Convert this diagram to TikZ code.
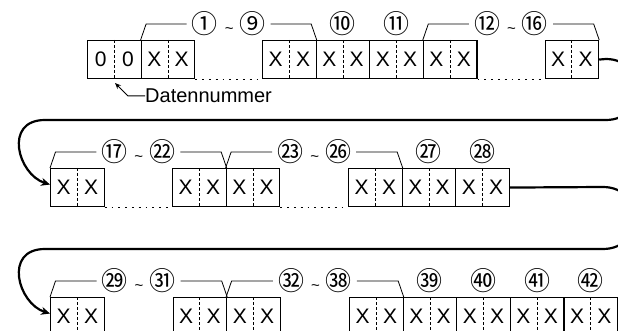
\documentclass[tikz,border=0pt]{standalone}
\usepackage{fontspec}
\setmainfont{Liberation Sans}
\newfontfamily\cjk{Noto Sans CJK JP}
\usetikzlibrary{calc,arrows.meta}
\newcommand\cellpair[5]{%
  \node[cellbox] (#1) at (#2,#3) {};
  \draw[middash] (#1.north) -- (#1.south);
  \node[cellch] (#1l) at ($(#1.center)!0.5!(#1.west)$) {#4};
  \node[cellch] (#1r) at ($(#1.center)!0.5!(#1.east)$) {#5};
}
\newcommand\brkt[4]{%
  \node[cnum] (#1) at ($(#2.north west)!0.5!(#3.north east)+(0,-16)$) {#4};
  \draw[brk] (#2.north west) -- ++(5.5,-16) -- (#1.west);
  \draw[brk] (#1.east) -- ($(#3.north east)+(-5.5,-16)$) -- (#3.north east);
}
\newcommand\tld{\hspace{7pt}{\rmfamily\fontsize{15}{15}\selectfont\textasciitilde}\hspace{6pt}}
\begin{document}
\begin{tikzpicture}[x=1pt,y=-1pt,
  cellbox/.style={draw,line width=1.1pt,minimum width=53.6pt,minimum height=38pt,inner sep=0pt,anchor=north west},
  middash/.style={line width=0.9pt,dash pattern=on 2.6pt off 2.4pt},
  cellch/.style={font=\fontsize{21}{22}\selectfont,inner sep=0pt},
  dnst/.style={font=\fontsize{20}{22}\selectfont,inner sep=0pt},
  gapdot/.style={line width=1pt,dash pattern=on 1.8pt off 5pt},
  brk/.style={line width=0.8pt},
  cnum/.style={font=\cjk\fontsize{26}{26}\selectfont,inner sep=5pt},
  conn/.style={line width=2.2pt},
  arr/.style={-{Stealth[length=9pt,width=8pt]}},
  small arr/.style={-{Stealth[length=6pt,width=5pt]}}
]
\useasboundingbox (0,0) rectangle (618,331);
\clip (0,0) rectangle (618,331);

% Row 1
\cellpair{A}{87}{40}{0}{0}
\cellpair{B}{140.6}{40}{X}{X}
\cellpair{C}{262}{40}{X}{X}
\cellpair{D}{315.6}{40}{X}{X}
\cellpair{E}{369.2}{40}{X}{X}
\cellpair{F}{422.8}{40}{X}{X}
\cellpair{G}{544.5}{40}{X}{X}
\draw[gapdot] (B.south east) -- (C.south west);
\draw[gapdot] (F.south east) -- (G.south west);
\brkt{t1}{B}{C}{①\tld⑨}
\brkt{t2}{F}{G}{⑫\tld⑯}
\node[cnum] (n10) at ($(D.north)+(0,-16)$) {⑩};
\node[cnum] (n11) at ($(E.north)+(0,-16)$) {⑪};

% Datennummer
\node[dnst,anchor=west] (dn) at (145,96) {Datennummer};
\coordinate (dnk) at (128,96);
\coordinate (dnt) at (115,83);
\draw[line width=1pt,small arr] (dn.west) -- (dnk) -- (dnt);

% Row 2
\cellpair{H}{50}{168}{X}{X}
\cellpair{I}{172}{168}{X}{X}
\cellpair{J}{225.6}{168}{X}{X}
\cellpair{K}{348}{168}{X}{X}
\cellpair{L}{401.6}{168}{X}{X}
\cellpair{M}{455.2}{168}{X}{X}
\draw[gapdot] (H.south east) -- (I.south west);
\draw[gapdot] (J.south east) -- (K.south west);
\brkt{t3}{H}{I}{⑰\tld㉒}
\brkt{t4}{J}{K}{㉓\tld㉖}
\node[cnum] (n27) at ($(L.north)+(0,-16)$) {㉗};
\node[cnum] (n28) at ($(M.north)+(0,-16)$) {㉘};

% Row 3
\cellpair{N}{50}{297}{X}{X}
\cellpair{O}{172.5}{297}{X}{X}
\cellpair{P}{226.1}{297}{X}{X}
\cellpair{Q}{349}{297}{X}{X}
\cellpair{R}{402.6}{297}{X}{X}
\cellpair{S}{456.2}{297}{X}{X}
\cellpair{T}{509.8}{297}{X}{X}
\cellpair{U}{563.4}{297}{X}{X}
\brkt{t5}{N}{O}{㉙\tld㉛}
\brkt{t6}{P}{Q}{㉜\tld㊳}
\node[cnum] (n39) at ($(R.north)+(0,-16)$) {㊴};
\node[cnum] (n40) at ($(S.north)+(0,-16)$) {㊵};
\node[cnum] (n41) at ($(T.north)+(0,-16)$) {㊶};
\node[cnum] (n42) at ($(U.north)+(0,-16)$) {㊷};

% Connectors
\coordinate (r1a) at (606,59);
\coordinate (r1b) at (606,120);
\coordinate (l1a) at (45,120);
\draw[conn,arr] (G.east) -- (r1a) .. controls +(41,0) and +(41,0) .. (r1b)
  -- (l1a) .. controls +(-42,0) and +(-32,-10) .. ($(H.west)+(0,-3)$);
\coordinate (r2a) at (603,187);
\coordinate (r2b) at (603,249);
\coordinate (l2a) at (45,249);
\draw[conn,arr] (M.east) -- (r2a) .. controls +(42,0) and +(42,0) .. (r2b)
  -- (l2a) .. controls +(-42,0) and +(-32,-10) .. ($(N.west)+(0,-3)$);
\end{tikzpicture}
\end{document}
